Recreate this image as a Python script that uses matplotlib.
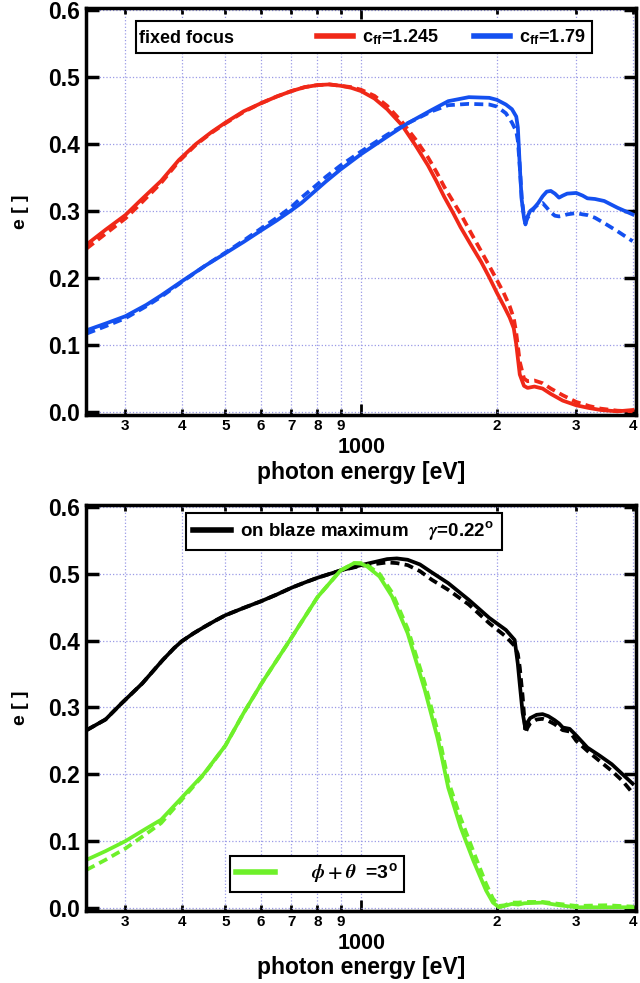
import numpy as np
import matplotlib
matplotlib.use('Agg')
import matplotlib.pyplot as plt
from matplotlib.lines import Line2D
from matplotlib.ticker import FixedLocator, FixedFormatter, NullLocator

plt.rcParams['font.family'] = ['Liberation Sans', 'DejaVu Sans']
plt.rcParams['font.weight'] = 'bold'
plt.rcParams['mathtext.fontset'] = 'stix'

# ---- top panel: fixed focus ----
e_red = [246, 271, 300, 323, 360, 394, 430, 466, 500, 549, 600, 650, 700, 750, 800, 850, 900, 950,
         1000, 1070, 1142, 1232, 1320, 1407, 1470, 1529, 1600, 1661, 1750, 1846, 1924, 2000, 2070,
         2135, 2180, 2208, 2248, 2297, 2340, 2422, 2526, 2634, 2800, 3000, 3200, 3400, 3700, 4000]
red_solid = [0.250, 0.272, 0.294, 0.315, 0.345, 0.376, 0.400, 0.418, 0.432, 0.449, 0.461, 0.471, 0.479,
             0.485, 0.488, 0.489, 0.487, 0.484, 0.479, 0.468, 0.452, 0.428, 0.398, 0.368, 0.344, 0.321,
             0.297, 0.276, 0.250, 0.224, 0.201, 0.178, 0.159, 0.141, 0.125, 0.101, 0.056, 0.039, 0.036,
             0.038, 0.035, 0.027, 0.017, 0.010, 0.006, 0.003, 0.001, 0.003]
red_dash = [0.244, 0.266, 0.289, 0.310, 0.342, 0.374, 0.399, 0.417, 0.431, 0.448, 0.461, 0.471, 0.479,
            0.485, 0.488, 0.489, 0.487, 0.485, 0.481, 0.472, 0.457, 0.433, 0.407, 0.380, 0.358, 0.336,
            0.314, 0.296, 0.268, 0.240, 0.218, 0.197, 0.178, 0.158, 0.140, 0.118, 0.075, 0.050, 0.046,
            0.047, 0.043, 0.035, 0.025, 0.015, 0.009, 0.005, 0.002, 0.001]

e_blue = [246, 271, 300, 334, 360, 400, 450, 500, 549, 600, 650, 700, 737, 800, 835, 900, 1000, 1142,
          1268, 1435, 1560, 1733, 1924, 2000, 2094, 2160, 2208, 2226, 2248, 2270, 2297, 2314, 2340,
          2370, 2422, 2470, 2526, 2580, 2634, 2690, 2747, 2800, 2864, 3000, 3100, 3175, 3300, 3460,
          3700, 4000]
blue_solid = [0.122, 0.132, 0.143, 0.160, 0.174, 0.195, 0.218, 0.237, 0.254, 0.271, 0.286, 0.301, 0.312,
              0.333, 0.344, 0.362, 0.385, 0.411, 0.431, 0.451, 0.464, 0.470, 0.469, 0.466, 0.459, 0.452,
              0.441, 0.425, 0.367, 0.317, 0.290, 0.280, 0.292, 0.300, 0.305, 0.312, 0.322, 0.329, 0.330,
              0.326, 0.320, 0.323, 0.326, 0.327, 0.323, 0.319, 0.318, 0.315, 0.305, 0.295]
blue_dash = [0.117, 0.128, 0.140, 0.158, 0.172, 0.194, 0.218, 0.238, 0.256, 0.274, 0.290, 0.306, 0.320,
             0.340, 0.351, 0.368, 0.389, 0.414, 0.431, 0.449, 0.458, 0.460, 0.459, 0.456, 0.446, 0.432,
             0.419, 0.405, 0.367, 0.320, 0.292, 0.285, 0.290, 0.295, 0.305, 0.310, 0.312, 0.305, 0.298,
             0.293, 0.292, 0.293, 0.295, 0.297, 0.295, 0.294, 0.290, 0.282, 0.270, 0.255]

# ---- bottom panel ----
e_black = [246, 271, 294, 327, 363, 385, 400, 425, 450, 475, 500, 549, 600, 650, 700, 750, 800, 900, 1000,
           1142, 1200, 1268, 1350, 1435, 1560, 1733, 1924, 2094, 2190, 2226, 2248, 2281, 2314, 2340, 2370,
           2450, 2526, 2600, 2686, 2747, 2800, 2900, 3000, 3175, 3378, 3597, 3800, 4000]
black_solid = [0.266, 0.282, 0.306, 0.336, 0.371, 0.389, 0.399, 0.411, 0.421, 0.430, 0.438, 0.449, 0.459,
               0.469, 0.479, 0.487, 0.494, 0.505, 0.513, 0.522, 0.523, 0.521, 0.514, 0.502, 0.486, 0.461,
               0.434, 0.416, 0.401, 0.365, 0.335, 0.292, 0.268, 0.278, 0.284, 0.289, 0.290, 0.287, 0.281,
               0.276, 0.270, 0.268, 0.258, 0.240, 0.228, 0.215, 0.200, 0.186]
black_dash = [0.266, 0.282, 0.306, 0.336, 0.371, 0.389, 0.399, 0.411, 0.421, 0.430, 0.438, 0.449, 0.459,
              0.469, 0.479, 0.487, 0.494, 0.505, 0.512, 0.517, 0.516, 0.513, 0.504, 0.491, 0.476, 0.454,
              0.426, 0.406, 0.392, 0.380, 0.360, 0.317, 0.262, 0.270, 0.276, 0.282, 0.283, 0.280, 0.275,
              0.270, 0.266, 0.264, 0.250, 0.235, 0.220, 0.205, 0.190, 0.172]

e_green = [246, 271, 300, 334, 360, 400, 447, 500, 549, 600, 700, 800, 900, 965, 1000, 1031, 1098, 1171,
           1268, 1383, 1476, 1509, 1560, 1661, 1773, 1893, 1960, 2022, 2080, 2157, 2230, 2302, 2526,
           2750, 3000, 3500, 4000]
green_solid = [0.072, 0.085, 0.100, 0.119, 0.132, 0.165, 0.200, 0.243, 0.292, 0.335, 0.404, 0.465, 0.505,
               0.516, 0.515, 0.511, 0.496, 0.466, 0.411, 0.327, 0.255, 0.226, 0.180, 0.121, 0.071, 0.026,
               0.008, 0.001, 0.003, 0.006, 0.005, 0.007, 0.008, 0.004, 0.001, 0.001, 0.001]
green_dash = [0.057, 0.072, 0.089, 0.111, 0.127, 0.162, 0.199, 0.243, 0.292, 0.335, 0.404, 0.465, 0.505,
              0.516, 0.516, 0.513, 0.500, 0.472, 0.418, 0.337, 0.266, 0.238, 0.190, 0.135, 0.085, 0.036,
              0.014, 0.003, 0.004, 0.008, 0.008, 0.009, 0.009, 0.006, 0.003, 0.004, 0.002]

minor_ticks = [300, 400, 500, 600, 700, 800, 900, 2000, 3000, 4000]
minor_labels = ['3', '4', '5', '6', '7', '8', '9', '2', '3', '4']
yticks = [0.0, 0.1, 0.2, 0.3, 0.4, 0.5, 0.6]

RED = '#f02818'
BLUE = '#1450f0'
GREEN = '#6ef02a'
DASH = (0, (2.4, 1.4))
LW = 2.7


def style_axes(ax):
    ax.set_xscale('log')
    ax.set_xlim(245, 4060)
    ax.set_ylim(-0.0045, 0.603)
    ax.xaxis.set_major_locator(FixedLocator([1000]))
    ax.xaxis.set_major_formatter(FixedFormatter(['1000']))
    ax.xaxis.set_minor_locator(FixedLocator(minor_ticks))
    ax.xaxis.set_minor_formatter(FixedFormatter(minor_labels))
    ax.set_yticks(yticks)
    ax.set_yticklabels(['%.1f' % v for v in yticks])
    ax.tick_params(axis='x', which='major', direction='in', length=8, width=2,
                   top=True, labelsize=15.5, pad=16)
    ax.tick_params(axis='x', which='minor', direction='in', length=4.5, width=2,
                   top=True, labelsize=11, pad=3)
    ax.tick_params(axis='y', which='major', direction='in', length=9, width=2.5,
                   right=True, labelsize=16.5, pad=4)
    ax.yaxis.set_minor_locator(NullLocator())
    for sp in ax.spines.values():
        sp.set_linewidth(2.5)
    ax.grid(True, which='both', axis='x', color='#9a9ae6', linestyle=':', linewidth=0.9)
    ax.grid(True, which='major', axis='y', color='#9a9ae6', linestyle=':', linewidth=0.9)
    ax.set_axisbelow(True)
    ax.set_xlabel('photon energy [eV]', fontsize=16.5, fontweight='bold')
    ax.xaxis.set_label_coords(0.5, -0.112)
    ax.set_ylabel('e [ ]', fontsize=14, fontweight='bold')
    ax.yaxis.set_label_coords(-0.104, 0.5)


fig = plt.figure(figsize=(6.4, 9.83), dpi=100)
ax1 = fig.add_axes([0.134, 0.5778, 0.859, 0.414])
ax2 = fig.add_axes([0.134, 0.0733, 0.859, 0.413])

# top panel
ax1.plot(e_red, red_solid, color=RED, lw=LW)
ax1.plot(e_red, red_dash, color=RED, lw=LW, ls=DASH)
ax1.plot(e_blue, blue_solid, color=BLUE, lw=LW)
ax1.plot(e_blue, blue_dash, color=BLUE, lw=LW, ls=DASH)
style_axes(ax1)

h_ff = Line2D([], [], color='none')
h_red = Line2D([], [], color=RED, lw=4)
h_blue = Line2D([], [], color=BLUE, lw=4)
leg1 = ax1.legend([h_ff, h_red, h_blue],
                  ['fixed focus', r'c$_{\mathregular{ff}}$=1.245', r'c$_{\mathregular{ff}}$=1.79'],
                  ncol=3, mode='expand', loc='lower left', borderaxespad=0,
                  bbox_to_anchor=(0.091, 0.889, 0.829, 0.077),
                  prop={'size': 13, 'weight': 'bold'}, handlelength=2.0, handletextpad=0.5,
                  columnspacing=1.0, borderpad=0.35, fancybox=False, framealpha=1,
                  edgecolor='black')
leg1.get_frame().set_linewidth(1.5)
leg1.get_texts()[0].set_position((-48, 0))

# bottom panel
ax2.plot(e_black, black_solid, color='black', lw=LW)
ax2.plot(e_black, black_dash, color='black', lw=LW, ls=DASH)
ax2.plot(e_green, green_solid, color=GREEN, lw=LW)
ax2.plot(e_green, green_dash, color=GREEN, lw=LW, ls=DASH)
style_axes(ax2)

h_black = Line2D([], [], color='black', lw=4)
leg2 = ax2.legend([h_black], [r'on blaze maximum    $\gamma$=0.22$^{\mathregular{o}}$'],
                  loc='upper left', bbox_to_anchor=(0.182, 0.980), borderaxespad=0,
                  prop={'size': 13.5, 'weight': 'bold'}, handlelength=2.0, handletextpad=0.5,
                  borderpad=0.4, fancybox=False, framealpha=1, edgecolor='black')
leg2.get_frame().set_linewidth(1.5)

h_green = Line2D([], [], color=GREEN, lw=4)
leg3 = ax2.legend([h_green], [r'     $\phi + \theta$  =3$^{\mathregular{o}}$'],
                  loc='lower left', bbox_to_anchor=(0.262, 0.047), borderaxespad=0,
                  prop={'size': 14, 'weight': 'bold'}, handlelength=2.0, handletextpad=0.5,
                  borderpad=0.3, fancybox=False, framealpha=1, edgecolor='black')
leg3.get_frame().set_linewidth(1.5)
ax2.add_artist(leg2)

fig.savefig('out.png', dpi=100)
